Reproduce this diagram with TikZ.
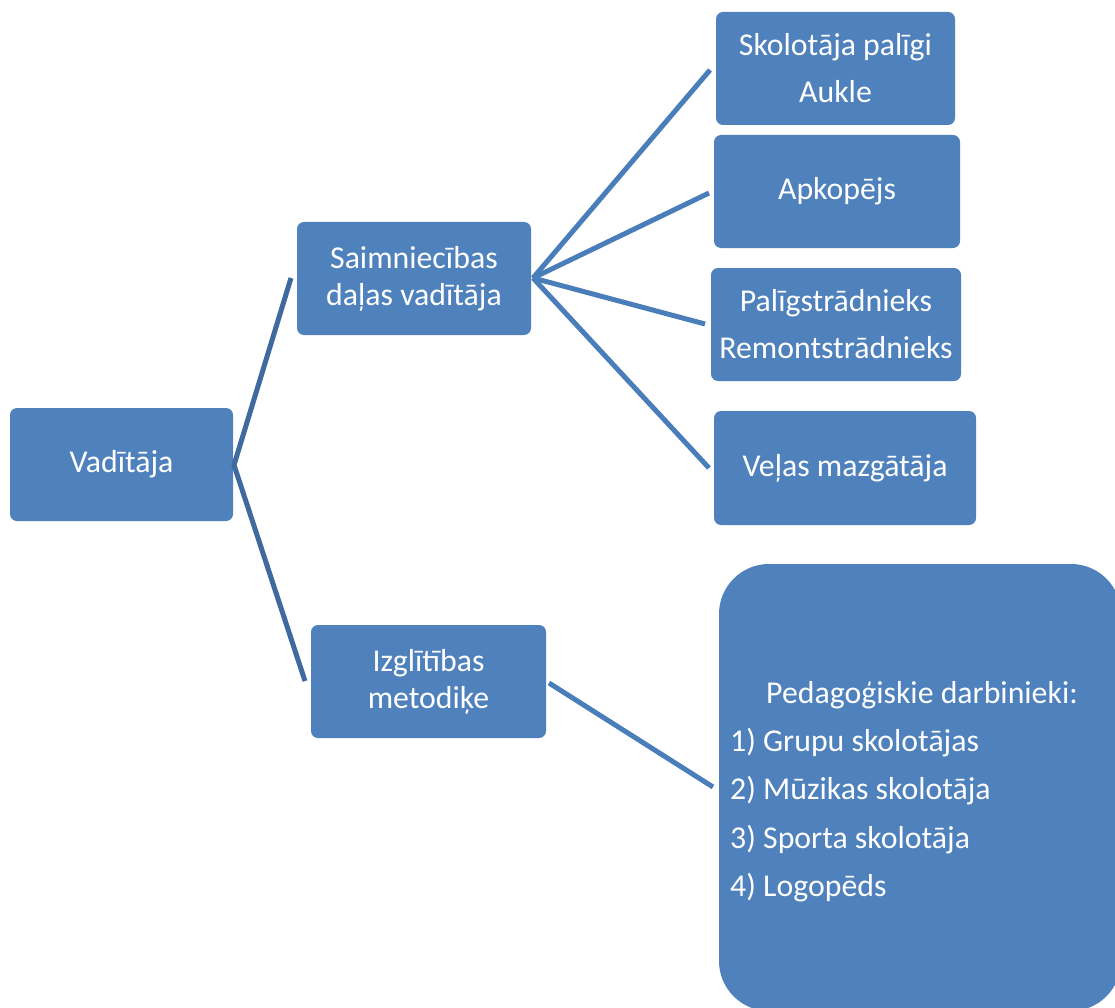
\documentclass[tikz,border=0pt]{standalone}
\usepackage{fontspec}
\setmainfont{Carlito}
\begin{document}
\begin{tikzpicture}[x=1pt,y=-1pt,
  box/.style={draw=none, fill=boxblue, rounded corners=7pt, inner sep=0pt, text=white, align=center},
  two/.style={font=\fontsize{31.8}{37}\selectfont},
  wide/.style={font=\fontsize{31.8}{47}\selectfont},
  lnA/.style={draw=lineA, line width=5pt},
  lnB/.style={draw=lineB, line width=5pt}]
\definecolor{boxblue}{HTML}{4F81BD}
\definecolor{lineA}{HTML}{3F6A9E}
\definecolor{lineB}{HTML}{4A7EBB}
\useasboundingbox (0,0) rectangle (1115,1008);
\fill[white] (0,0) rectangle (1115,1008);
% boxes
\node[box, two, minimum width=223pt, minimum height=113pt] (vad) at (121.5,464.5) {\raisebox{-2pt}{Vadītāja}};
\node[box, two, minimum width=234pt, minimum height=113pt] (saim) at (414,278.5) {Saimniecības\\daļas vadītāja};
\node[box, two, minimum width=235pt, minimum height=113pt] (izgl) at (428.5,681.5) {Izglītības\\metodiķe};
\node[box, wide, minimum width=239pt, minimum height=113pt] (skol) at (835.5,68.5) {Skolotāja palīgi\\Aukle};
\node[box, wide, minimum width=246pt, minimum height=113pt] (apk) at (837,191.5) {\raisebox{-1pt}{Apkopējs}};
\node[box, wide, minimum width=250pt, minimum height=113pt] (palig) at (836,324.5) {Palīgstrādnieks\\Remontstrādnieks};
\node[box, wide, minimum width=262pt, minimum height=114pt] (velas) at (845,468) {\raisebox{-2pt}{Veļas mazgātāja}};
\node[box, rounded corners=50pt, minimum width=402pt, minimum height=447pt] (ped) at (920,787.5) {};
\node[anchor=west, inner sep=0pt, text=white, align=left, font=\fontsize{31.8}{48.2}\selectfont] (pedtext) at (730,791.5)
  {\hspace*{36pt}Pedagoģiskie darbinieki:\\1) Grupu skolotājas\\2) Mūzikas skolotāja\\3) Sporta skolotāja\\4) Logopēds};
% connector ends
\coordinate (vadO) at (234,465);
\coordinate (saimIn) at (291,278);
\coordinate (izglIn) at (305,681);
\coordinate (saimO) at (533,278);
\coordinate (skolIn) at (710,70);
\coordinate (apkIn) at (709,193);
\coordinate (paligIn) at (705,324);
\coordinate (velasIn) at (709,468);
\coordinate (izglO) at (549,683);
\coordinate (pedIn) at (713,787);
% connectors
\draw[lnA] (saimIn) -- (vadO) -- (izglIn);
\draw[lnB] (saimO) -- (skolIn);
\draw[lnB] (saimO) -- (apkIn);
\draw[lnB] (saimO) -- (paligIn);
\draw[lnB] (saimO) -- (velasIn);
\draw[lnB] (izglO) -- (pedIn);
\end{tikzpicture}
\end{document}
